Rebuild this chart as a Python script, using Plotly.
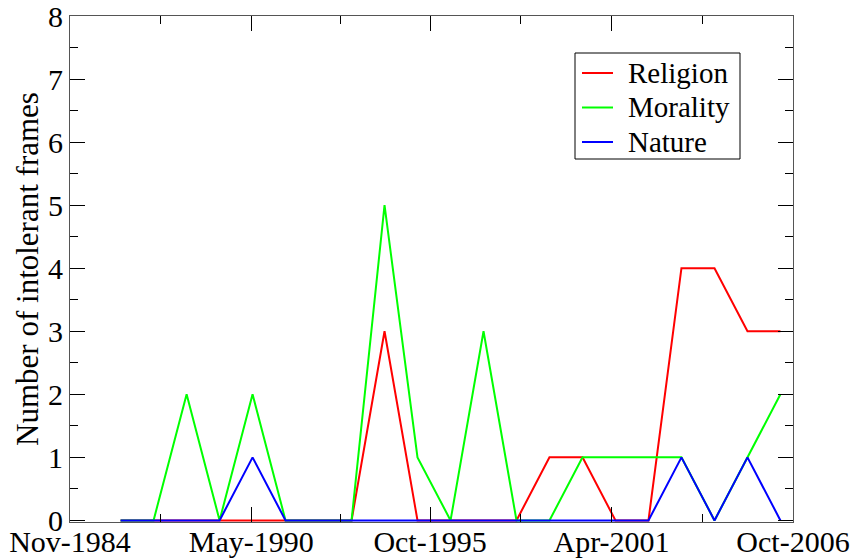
import plotly.graph_objects as go
from datetime import datetime

years = [1986, 1987, 1988, 1989, 1990, 1991, 1992, 1993, 1994, 1995, 1996,
         1997, 1998, 1999, 2000, 2001, 2002, 2003, 2004, 2005, 2006]
religion = [0, 0, 0, 0, 0, 0, 0, 0, 3, 0, 0, 0, 0, 1, 1, 0, 0, 4, 4, 3, 3]
morality = [0, 0, 2, 0, 2, 0, 0, 0, 5, 1, 0, 3, 0, 0, 1, 1, 1, 1, 0, 1, 2]
nature = [0, 0, 0, 0, 1, 0, 0, 0, 0, 0, 0, 0, 0, 0, 0, 0, 0, 1, 0, 1, 0]

series_names = ["Religion", "Morality", "Nature"]
series_colors = ["#ff0000", "#00ff00", "#0000ff"]

tick_dates = ["1984-11-01", "1990-05-01", "1995-10-01", "2001-04-01", "2006-10-01"]
tick_labels = ["Nov-1984", "May-1990", "Oct-1995", "Apr-2001", "Oct-2006"]
y_ticks = [0, 1, 2, 3, 4, 5, 6, 7, 8]

x_dates = [f"{y}-05-15" for y in years]

def mid(a, b):
    da = datetime.fromisoformat(a)
    db = datetime.fromisoformat(b)
    return (da + (db - da) / 2).strftime("%Y-%m-%d")

minor_dates = [mid(tick_dates[i], tick_dates[i + 1]) for i in range(len(tick_dates) - 1)]

FONT = "Liberation Serif, Times New Roman, serif"
AX = "#555555"

W, H = 853, 560
ML, MR, MT, MB = 70, 60, 16, 38
PW, PH = W - ML - MR, H - MT - MB

def px2x(px):
    return (px - ML) / PW

def px2y(py):
    return (H - MB - py) / PH

fig = go.Figure()
for name, vals, col in zip(series_names, [religion, morality, nature], series_colors):
    fig.add_trace(go.Scatter(x=x_dates, y=vals, mode="lines", name=name,
                             showlegend=False, line=dict(color=col, width=2)))

# hand-drawn legend box (matches the reference's compact layout)
shapes = [dict(type="rect", xref="paper", yref="paper",
               x0=px2x(575), x1=px2x(740), y0=px2y(159), y1=px2y(53),
               line=dict(color="black", width=1), fillcolor="white", layer="above")]
annotations = []
row_y = [73, 107.5, 142]
for name, col, ry in zip(series_names, series_colors, row_y):
    shapes.append(dict(type="line", xref="paper", yref="paper",
                       x0=px2x(582), x1=px2x(613), y0=px2y(ry), y1=px2y(ry),
                       line=dict(color=col, width=2), layer="above"))
    annotations.append(dict(xref="paper", yref="paper", x=px2x(626), y=px2y(ry),
                            xanchor="left", yanchor="middle", showarrow=False,
                            text=name, font=dict(family=FONT, size=29, color="black")))

fig.update_layout(
    width=W, height=H,
    margin=dict(l=ML, r=MR, t=MT, b=MB),
    paper_bgcolor="white", plot_bgcolor="white",
    font=dict(family=FONT, size=30, color="black"),
    showlegend=False,
    shapes=shapes, annotations=annotations,
)
fig.update_xaxes(
    type="date", range=[tick_dates[0], tick_dates[-1]],
    tickmode="array", tickvals=tick_dates, ticktext=tick_labels,
    ticks="inside", ticklen=15, tickwidth=1, tickcolor="black",
    minor=dict(tickvals=minor_dates, ticks="inside", ticklen=8, tickcolor="black"),
    showline=True, linecolor=AX, linewidth=1, mirror="ticks",
    showgrid=False, zeroline=False, automargin=False,
    ticklabeloverflow="allow", ticklabelstandoff=-7,
    tickfont=dict(family=FONT, size=30),
)
fig.update_yaxes(
    range=[-0.025, 8], tickmode="array", tickvals=y_ticks,
    ticktext=[str(v) for v in y_ticks],
    ticks="inside", ticklen=15, tickwidth=1, tickcolor="black",
    minor=dict(dtick=0.5, tick0=0, ticks="inside", ticklen=8, tickcolor="black"),
    showline=True, linecolor=AX, linewidth=1, mirror="ticks",
    showgrid=False, zeroline=False, automargin=False,
    ticklabeloverflow="allow",
    tickfont=dict(family=FONT, size=30),
    title=dict(text="Number of intolerant frames", font=dict(family=FONT, size=31), standoff=0),
)

fig.write_html("out.html", config={"displayModeBar": False},
               post_script="document.body.style.margin='0';document.body.style.overflow='hidden';")
